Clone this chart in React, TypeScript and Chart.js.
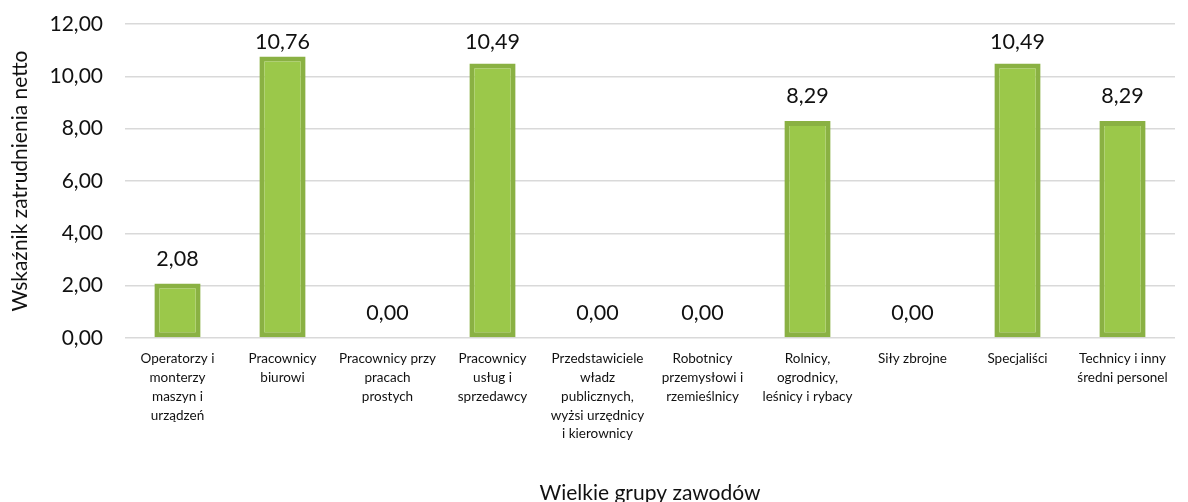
import React, { useEffect, useRef } from "react";
import { Chart, registerables } from "chart.js";

Chart.register(...registerables);

const categories: string[][] = [
  ["Operatorzy i", "monterzy", "maszyn i", "urządzeń"],
  ["Pracownicy", "biurowi"],
  ["Pracownicy przy", "pracach", "prostych"],
  ["Pracownicy", "usług i", "sprzedawcy"],
  ["Przedstawiciele", "władz", "publicznych,", "wyżsi urzędnicy", "i kierownicy"],
  ["Robotnicy", "przemysłowi i", "rzemieślnicy"],
  ["Rolnicy,", "ogrodnicy,", "leśnicy i rybacy"],
  ["Siły zbrojne"],
  ["Specjaliści"],
  ["Technicy i inny", "średni personel"],
];

const values: number[] = [2.08, 10.76, 0, 10.49, 0, 0, 8.29, 0, 10.49, 8.29];

const yTicks: number[] = [0, 2, 4, 6, 8, 10, 12];

const FONT = "Lato, 'Open Sans', sans-serif";

const fmt = (v: number) => v.toFixed(2).replace(".", ",");

const valueLabels = {
  id: "valueLabels",
  afterDatasetsDraw(chart: any) {
    const ctx = chart.ctx;
    const meta = chart.getDatasetMeta(0);
    const top = chart.chartArea.top;
    ctx.save();
    ctx.font = `21.5px ${FONT}`;
    ctx.fillStyle = "#111";
    ctx.textAlign = "center";
    ctx.textBaseline = "middle";
    meta.data.forEach((bar: any, i: number) => {
      const v = chart.data.datasets[0].data[i] as number;
      const y = Math.max(bar.y - 25, top + 18);
      ctx.fillText(fmt(v), bar.x, y);
    });
    ctx.restore();
  },
};

export default function App() {
  const ref = useRef<HTMLCanvasElement>(null);
  useEffect(() => {
    if (!ref.current) return;
    const chart = new Chart(ref.current, {
      type: "bar",
      data: {
        labels: categories,
        datasets: [
          {
            data: values,
            backgroundColor: "#9bc84a",
            borderColor: "#8ab143",
            borderWidth: 5,
            borderSkipped: false,
            categoryPercentage: 1,
            barPercentage: 0.44,
          },
        ],
      },
      options: {
        animation: false,
        responsive: false,
        maintainAspectRatio: false,
        layout: { padding: { top: 24, right: 13, left: 0, bottom: 0 } },
        plugins: { legend: { display: false }, tooltip: { enabled: false } },
        scales: {
          x: {
            grid: { display: false, drawTicks: false },
            border: { display: false },
            ticks: {
              padding: 11,
              color: "#111",
              font: { family: FONT, size: 13.5, lineHeight: 1.4 },
              maxRotation: 0,
              autoSkip: false,
            },
            title: {
              display: true,
              text: "Wielkie grupy zawodów",
              color: "#111",
              font: { family: FONT, size: 21 },
              padding: { top: 0, bottom: -4 },
            },
            afterFit: (s: any) => {
              s.height = 164;
            },
          },
          y: {
            min: 0,
            max: 12,
            afterBuildTicks: (s: any) => {
              s.ticks = yTicks.map((v) => ({ value: v }));
            },
            grid: { color: "#d9d9d9", lineWidth: 1.5, drawTicks: false },
            border: { display: false },
            ticks: {
              padding: 22,
              color: "#111",
              font: { family: FONT, size: 21 },
              callback: (v: any) => fmt(Number(v)),
            },
            title: {
              display: true,
              text: "Wskaźnik zatrudnienia netto",
              color: "#111",
              font: { family: FONT, size: 21 },
              padding: { top: 8, bottom: 0 },
            },
            afterFit: (s: any) => {
              s.width = 125;
              s.paddingTop = 12;
              s.paddingBottom = 12;
            },
          },
        },
      },
      plugins: [valueLabels],
    });
    return () => chart.destroy();
  }, []);
  return (
    <div style={{ position: "absolute", left: 0, top: 0, width: 1188, height: 502, background: "#fff" }}>
      <canvas ref={ref} width={1188} height={502} style={{ width: 1188, height: 502 }} />
    </div>
  );
}
